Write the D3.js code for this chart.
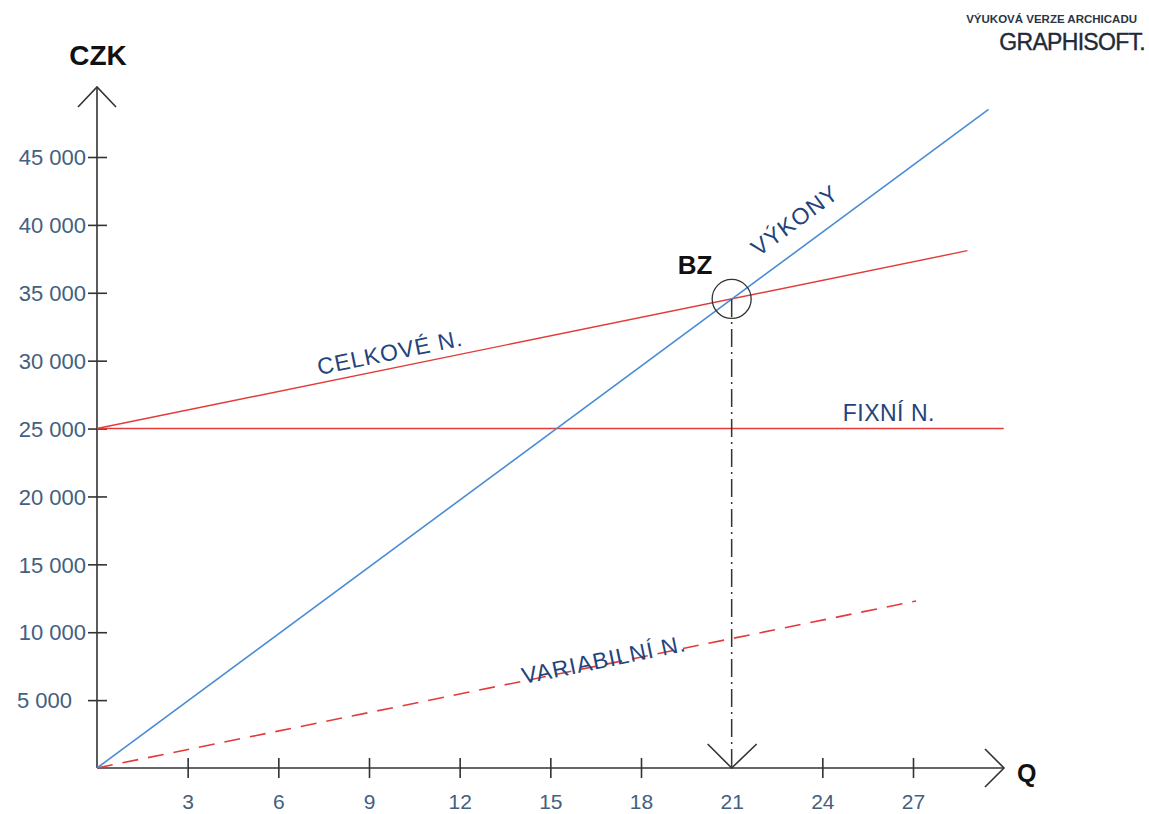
<!DOCTYPE html>
<html lang="cs">
<head>
<meta charset="utf-8">
<title>Bod zvratu</title>
<script src="https://cdn.jsdelivr.net/npm/d3@7"></script>
<style>
  html, body { margin: 0; padding: 0; background: #fff; }
  svg { display: block; font-family: Arial, "Liberation Sans", sans-serif; }
</style>
</head>
<body>
<svg id="chart" width="1149" height="814"></svg>
<script>
// Axis ticks
const qTicks = [3, 6, 9, 12, 15, 18, 21, 24, 27];
const czkTicks = [5000, 10000, 15000, 20000, 25000, 30000, 35000, 40000, 45000];

// Line end points (quantity Q, amount CZK)
const revenueQ = [0, 29.5];
const revenueCZK = [0, 48500];
const totalQ = [0, 28.8];
const totalCZK = [25000, 38100];
const fixedQ = [0, 30];
const fixedCZK = [25000, 25000];
const variableQ = [0, 27.1];
const variableCZK = [0, 12300];

// Break-even point
const breakEvenQ = 21;
const breakEvenCZK = 34550;

const svg = d3.select("#chart");

const x = d3.scaleLinear().domain([0, 27]).range([97, 913]);
const y = d3.scaleLinear().domain([0, 45000]).range([768, 157]);

const czLocale = d3.formatLocale({ decimal: ",", thousands: " ", grouping: [3], currency: ["", " Kč"] });
const fmt = czLocale.format(",");

const AXIS = "#333";
const TICK_TEXT = "#43607f";
const LABEL = "#24437a";
const BLUE = "#4b8cd6";
const RED = "#e33a3a";

const x0 = x(0), y0 = y(0);

// ---- axes ----
const axes = svg.append("g").attr("stroke", AXIS).attr("stroke-width", 1.6).attr("fill", "none");
axes.append("line").attr("x1", x0).attr("y1", y0).attr("x2", x0).attr("y2", 87);
axes.append("path").attr("d", `M${x0 - 19},107L${x0},87L${x0 + 19},107`);
axes.append("line").attr("x1", x0).attr("y1", y0).attr("x2", 1004).attr("y2", y0);
axes.append("path").attr("d", `M985,${y0 - 19}L1004,${y0}L985,${y0 + 19}`);

// y ticks (crossing the axis)
const yAxis = d3.axisLeft(y).tickValues(czkTicks).tickSize(0).tickPadding(0).tickFormat(fmt);
const gy = svg.append("g").attr("transform", `translate(${x0},0)`).call(yAxis);
gy.select(".domain").remove();
gy.selectAll(".tick line")
  .attr("x1", -9).attr("x2", 10)
  .attr("stroke", AXIS).attr("stroke-width", 1.6);
gy.selectAll(".tick text")
  .attr("x", d => d === 5000 ? -25 : -11)
  .attr("dy", "0.35em")
  .attr("fill", TICK_TEXT)
  .style("font-size", "22px")
  .style("font-family", "Arial, 'Liberation Sans', sans-serif");

// x ticks (crossing the axis)
const xAxis = d3.axisBottom(x).tickValues(qTicks).tickSize(0).tickPadding(0).tickFormat(d3.format("d"));
const gx = svg.append("g").attr("transform", `translate(0,${y0})`).call(xAxis);
gx.select(".domain").remove();
gx.selectAll(".tick line")
  .attr("y1", -10).attr("y2", 10)
  .attr("stroke", d => d === breakEvenQ ? "none" : AXIS)
  .attr("stroke-width", 1.6);
gx.selectAll(".tick text")
  .attr("y", 41)
  .attr("dy", 0)
  .attr("fill", TICK_TEXT)
  .style("font-size", "21px")
  .style("font-family", "Arial, 'Liberation Sans', sans-serif");

// axis titles
svg.append("text").attr("x", x0 + 1).attr("y", 65).attr("text-anchor", "middle")
  .attr("font-weight", "bold").attr("font-size", 28).attr("fill", "#111").text("CZK");
svg.append("text").attr("x", 1017).attr("y", 782)
  .attr("font-weight", "bold").attr("font-size", 25).attr("fill", "#111").text("Q");

// ---- lines ----
const line = d3.line().x(d => x(d[0])).y(d => y(d[1]));
const pts = (qs, vs) => qs.map((q, i) => [q, vs[i]]);

svg.append("path").datum(pts(fixedQ, fixedCZK)).attr("d", line)
  .attr("fill", "none").attr("stroke", RED).attr("stroke-width", 1.4);
svg.append("path").datum(pts(totalQ, totalCZK)).attr("d", line)
  .attr("fill", "none").attr("stroke", RED).attr("stroke-width", 1.4);
svg.append("path").datum(pts(variableQ, variableCZK)).attr("d", line)
  .attr("fill", "none").attr("stroke", RED).attr("stroke-width", 1.6)
  .attr("stroke-dasharray", "16,10");
svg.append("path").datum(pts(revenueQ, revenueCZK)).attr("d", line)
  .attr("fill", "none").attr("stroke", BLUE).attr("stroke-width", 1.6);

// ---- break-even marker ----
const bx = x(breakEvenQ), by = y(breakEvenCZK);
svg.append("circle").attr("cx", bx).attr("cy", by).attr("r", 19.5)
  .attr("fill", "none").attr("stroke", AXIS).attr("stroke-width", 1.3);
svg.append("line").attr("x1", bx).attr("y1", by).attr("x2", bx).attr("y2", y0)
  .attr("stroke", AXIS).attr("stroke-width", 1.5).attr("stroke-dasharray", "18,5,2,5");
svg.append("path").attr("d", `M${bx - 24},${y0 - 24}L${bx},${y0}L${bx + 25},${y0 - 24}`)
  .attr("fill", "none").attr("stroke", AXIS).attr("stroke-width", 1.6);
svg.append("text").attr("x", bx - 54).attr("y", by - 25)
  .attr("font-weight", "bold").attr("font-size", 26).attr("fill", "#111").text("BZ");

// ---- line labels ----
function slopeAngle(qs, vs) {
  const dx = x(qs[1]) - x(qs[0]);
  const dy = y(vs[1]) - y(vs[0]);
  return Math.atan2(dy, dx) * 180 / Math.PI;
}
function valueAt(qs, vs, q) {
  return d3.scaleLinear().domain(qs).range(vs)(q);
}
function lineLabel(text, qs, vs, q, offset) {
  const px = x(q), py = y(valueAt(qs, vs, q));
  svg.append("text")
    .attr("transform", `translate(${px},${py}) rotate(${slopeAngle(qs, vs)})`)
    .attr("y", offset)
    .attr("text-anchor", "middle")
    .attr("font-size", 23)
    .attr("letter-spacing", 1)
    .attr("fill", LABEL)
    .text(text);
}
lineLabel("VÝKONY", revenueQ, revenueCZK, 23.6, -18);
lineLabel("CELKOVÉ N.", totalQ, totalCZK, 9.8, -8);
lineLabel("VARIABILNÍ N.", variableQ, variableCZK, 16.8, 3);

svg.append("text").attr("x", x(26.2)).attr("y", y(fixedCZK[0]) - 8)
  .attr("text-anchor", "middle").attr("font-size", 23).attr("letter-spacing", 0.5)
  .attr("fill", LABEL).text("FIXNÍ N.");

// ---- corner caption ----
svg.append("text").attr("x", 1137).attr("y", 23).attr("text-anchor", "end")
  .attr("font-weight", "bold").attr("font-size", 11.5).attr("fill", "#2a3545")
  .text("VÝUKOVÁ VERZE ARCHICADU");
svg.append("text").attr("x", 1145).attr("y", 50).attr("text-anchor", "end")
  .attr("font-size", 23).attr("letter-spacing", -0.7).attr("fill", "#1f2a3a")
  .attr("stroke", "#1f2a3a").attr("stroke-width", 0.4)
  .text("GRAPHISOFT.");
</script>
</body>
</html>
